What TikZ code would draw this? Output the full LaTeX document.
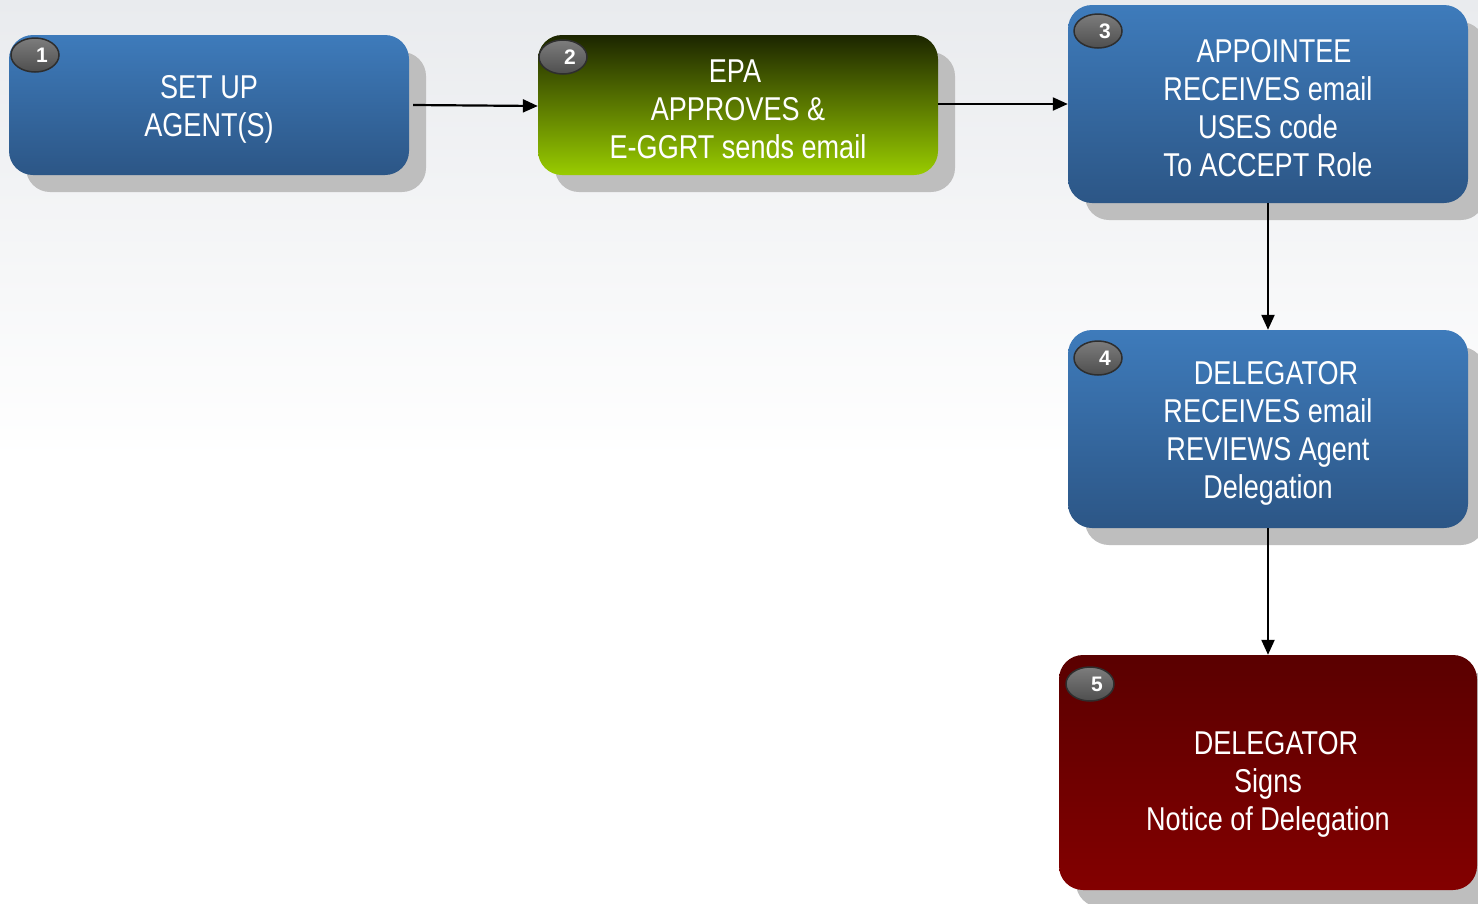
\documentclass[tikz,border=0pt]{standalone}
\usepackage{fontspec}
\setmainfont{Liberation Sans}[FakeStretch=0.82]
\newfontfamily\badgefont{Liberation Sans}
\usetikzlibrary{arrows.meta,shapes.geometric,shadows}
\definecolor{bluetop}{HTML}{3E7BBB}
\definecolor{bluebot}{HTML}{2C5686}
\definecolor{greentop}{HTML}{1C2500}
\definecolor{greenmid}{HTML}{6A9000}
\definecolor{greenbot}{HTML}{99CC00}
\definecolor{redtop}{HTML}{5A0000}
\definecolor{redbot}{HTML}{830000}
\definecolor{shadowgray}{HTML}{BEBEBE}
\definecolor{badgefill}{HTML}{5C5C5C}
\definecolor{badgeline}{HTML}{2E2E2E}
\definecolor{bgtop}{HTML}{E9EBEE}
\tikzset{
  stepbox/.style={rectangle, rounded corners=24pt, inner sep=0pt,
    drop shadow={shadow xshift=17pt, shadow yshift=-17pt, fill=shadowgray, opacity=1}},
  bluebox/.style={stepbox, top color=bluetop, bottom color=bluebot},
  greenbox/.style={stepbox, top color=greentop, middle color=greenmid, bottom color=greenbot},
  redbox/.style={stepbox, top color=redtop, bottom color=redbot},
  badge/.style={ellipse, minimum width=48pt, minimum height=34pt, inner sep=0pt,
    top color=badgefill!80!white, bottom color=badgefill!85!black, draw=badgeline, line width=1.5pt},
  badgenum/.style={text=white, inner sep=0pt, font=\badgefont\bfseries\fontsize{21}{21}\selectfont},
  flow/.style={draw=black, line width=2.2pt, -{Triangle[length=15pt,width=13pt]}},
  boxtext/.style={text=white, align=center, inner sep=0pt, font=\fontsize{33}{38}\selectfont}
}
\begin{document}
\begin{tikzpicture}[x=1pt,y=-1pt]
\useasboundingbox (0,0) rectangle (1478,903);
\fill[white] (0,0) rectangle (1478,903);
\shade[top color=bgtop, bottom color=white] (0,0) rectangle (1478,460);

\node[bluebox, minimum width=400pt, minimum height=140pt] (b1) at (209,105) {};
\node[greenbox, minimum width=400pt, minimum height=140pt] (b2) at (738,105) {};
\node[bluebox, minimum width=400pt, minimum height=198pt] (b3) at (1268,104) {};
\node[bluebox, minimum width=400pt, minimum height=198pt] (b4) at (1268,429) {};
\node[redbox, minimum width=418pt, minimum height=235pt] (b5) at (1268,772.5) {};

\node[boxtext] (t1) at ([yshift=-4pt]b1.center) {SET UP\\AGENT(S)};
\node[boxtext] (t2) at ([yshift=-4pt]b2.center) {\hspace*{-6pt}EPA\\APPROVES \&\\E-GGRT sends email};
\node[boxtext] (t3) at ([yshift=-4pt]b3.center) {\hspace*{12pt}APPOINTEE\\RECEIVES email\\USES code\\To ACCEPT Role};
\node[boxtext] (t4) at ([yshift=-4pt]b4.center) {\hspace*{16pt}DELEGATOR\\RECEIVES email\\REVIEWS Agent\\Delegation};
\node[boxtext] (t5) at (1268,784) {\hspace*{16pt}DELEGATOR\\Signs\\Notice of Delegation};

\node[badge] (n1) at (35,55) {};
\node[badge] (n2) at (563,57) {};
\node[badge] (n3) at (1098,31) {};
\node[badge] (n4) at (1098,358) {};
\node[badge] (n5) at (1090,684) {};
\node[badgenum] (d1) at ([xshift=7pt]n1.center) {1};
\node[badgenum] (d2) at ([xshift=7pt]n2.center) {2};
\node[badgenum] (d3) at ([xshift=7pt]n3.center) {3};
\node[badgenum] (d4) at ([xshift=7pt]n4.center) {4};
\node[badgenum] (d5) at ([xshift=7pt]n5.center) {5};

\draw[flow] ([xshift=4pt]b1.east) -- ([yshift=-1pt]b2.west);
\draw[flow] (b2.east |- b3.west) -- (b3.west);
\draw[flow] (b3.south) -- (b4.north);
\draw[flow] (b4.south) -- (b4.south |- b5.north);
\end{tikzpicture}
\end{document}
